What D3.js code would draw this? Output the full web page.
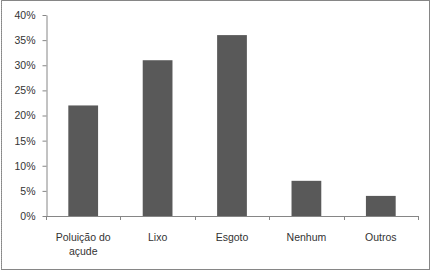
<!DOCTYPE html>
<html><head><meta charset="utf-8">
<script src="https://cdn.jsdelivr.net/npm/d3@7"></script>
<style>body{margin:0;background:#fff}svg{display:block}text{font-family:"Liberation Sans",Arial,sans-serif;fill:#333}</style>
</head><body>
<script>
const categories = [["Poluição do","açude"],["Lixo"],["Esgoto"],["Nenhum"],["Outros"]];
const values = [0.22, 0.31, 0.36, 0.07, 0.04];
const yTicks = [0,0.05,0.10,0.15,0.20,0.25,0.30,0.35,0.40];

(function(){
const W=431,H=272;
const svg=d3.select("body").append("svg").attr("width",W).attr("height",H);
svg.append("rect").attr("x",1.5).attr("y",0.5).attr("width",428).attr("height",269).attr("fill","#fff").attr("stroke","#868686");
svg.append("line").attr("x1",1.5).attr("x2",1.5).attr("y1",0).attr("y2",270).attr("stroke","#999").attr("stroke-dasharray","1,1");

const mLeft=46,mRight=418,mTop=15,mBottom=216;
const x=d3.scaleBand().domain(d3.range(values.length)).range([mLeft,mRight]).paddingInner(0.6).paddingOuter(0.3);
const xb=d3.scaleBand().domain(d3.range(values.length)).range([mLeft,mRight]);
const y=d3.scaleLinear().domain([0,0.4]).range([mBottom,mTop]);

svg.selectAll("rect.bar").data(values).enter().append("rect").attr("class","bar")
 .attr("x",(d,i)=>x(i)).attr("width",x.bandwidth())
 .attr("y",d=>y(d)).attr("height",d=>mBottom-y(d)).attr("fill","#595959");

const yAxis=svg.append("g").attr("transform",`translate(${mLeft+0.5},0)`)
 .call(d3.axisLeft(y).tickValues(yTicks).tickFormat(d3.format(".0%")).tickSize(4).tickSizeOuter(0).tickPadding(7));
yAxis.select(".domain").attr("stroke","#868686");
yAxis.selectAll(".tick line").attr("stroke","#868686");
yAxis.selectAll("text").style("font-size","10.5px").attr("fill","#333");

const xg=svg.append("g");
xg.append("line").attr("x1",mLeft).attr("x2",mRight+0.5).attr("y1",mBottom+0.5).attr("y2",mBottom+0.5).attr("stroke","#868686");
const bounds=d3.range(values.length+1).map(i=>i<values.length?xb(i):mRight);
xg.selectAll("line.t").data(bounds).enter().append("line").attr("class","t")
 .attr("x1",d=>Math.round(d)+0.5).attr("x2",d=>Math.round(d)+0.5).attr("y1",mBottom).attr("y2",mBottom+4).attr("stroke","#868686");
categories.forEach((lines,i)=>{
  const t=xg.append("text").attr("text-anchor","middle").style("font-size","10.5px")
   .attr("x",xb(i)+xb.bandwidth()/2).attr("y",240.5);
  lines.forEach((l,j)=>t.append("tspan").attr("x",xb(i)+xb.bandwidth()/2).attr("dy",j?14:0).text(l));
});
})();
</script>
</body></html>
